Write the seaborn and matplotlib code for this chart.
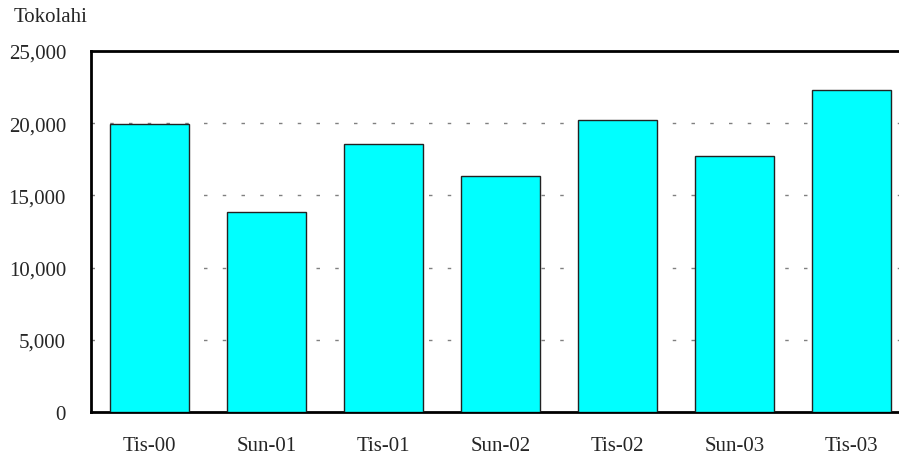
import matplotlib
matplotlib.use("Agg")
import matplotlib.pyplot as plt
import pandas as pd
import seaborn as sns

periods = ["Tis-00", "Sun-01", "Tis-01", "Sun-02", "Tis-02", "Sun-03", "Tis-03"]
values = [19950, 13850, 18560, 16340, 20220, 17730, 22300]
yticks = [0, 5000, 10000, 15000, 20000, 25000]

df = pd.DataFrame({"period": periods, "value": values})

sns.set_style("white")
plt.rcParams["font.family"] = ["Liberation Serif", "DejaVu Serif"]

fig = plt.figure(figsize=(8.99, 4.60), dpi=100)
ax = fig.add_axes([91 / 899, 47 / 460, 819 / 899, 361 / 460])

sns.barplot(data=df, x="period", y="value", color="#00FFFF", saturation=1,
            edgecolor="#222222", linewidth=1, width=0.667, ax=ax, zorder=3)

ax.set_xlim(-0.5, 6.5)
ax.set_ylim(0, 25000)
ax.set_yticks(yticks)
ax.set_yticklabels([f"{v:,}" for v in yticks], fontsize=15)
ax.tick_params(axis="x", labelsize=15, length=0, pad=17)
ax.tick_params(axis="y", length=0, pad=18)
ax.set_xlabel("")
ax.set_ylabel("")

for y in yticks[1:-1]:
    ax.axhline(y, color="#808080", linewidth=1, linestyle=(0, (2.5, 11)), zorder=1)

for side in ["left", "bottom", "top"]:
    ax.spines[side].set_linewidth(2)
    ax.spines[side].set_color("black")
ax.spines["right"].set_visible(False)

fig.text(14 / 899, 1 - 18 / 460, "Tokolahi", fontsize=15, va="center", ha="left")

plt.savefig("out.png", dpi=100)
plt.close()
